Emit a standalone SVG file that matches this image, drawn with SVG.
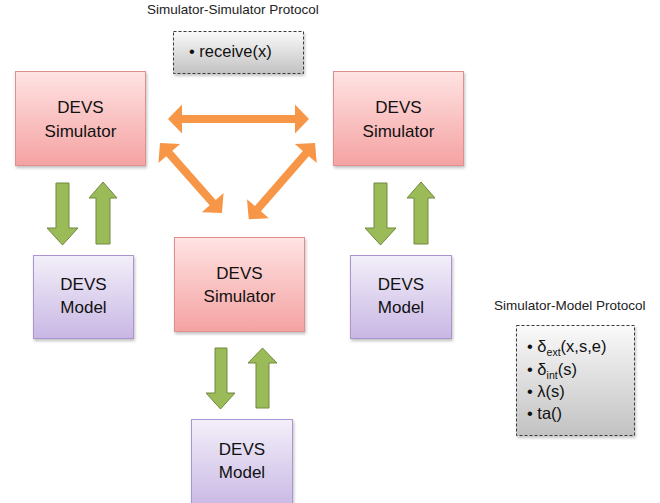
<svg xmlns="http://www.w3.org/2000/svg" width="660" height="503" viewBox="0 0 660 503">
  <defs>
    <linearGradient id="gSim" x1="0" y1="0" x2="0" y2="1">
      <stop offset="0" stop-color="#FFE3E3"/>
      <stop offset="1" stop-color="#F5A2A2"/>
    </linearGradient>
    <linearGradient id="gModel" x1="0" y1="0" x2="0" y2="1">
      <stop offset="0" stop-color="#F3EFF9"/>
      <stop offset="1" stop-color="#C8B7E4"/>
    </linearGradient>
    <linearGradient id="gProto" x1="0" y1="0" x2="0" y2="1">
      <stop offset="0" stop-color="#FAFAFA"/>
      <stop offset="1" stop-color="#C2C2C2"/>
    </linearGradient>
    <filter id="shadow" x="-10%" y="-10%" width="130%" height="130%">
      <feDropShadow dx="1" dy="2" stdDeviation="1.5" flood-color="#000" flood-opacity="0.25"/>
    </filter>
  </defs>
  <style>
    .sim { fill: url(#gSim); stroke: #DE8F8E; stroke-width: 1; filter: url(#shadow); }
    .model { fill: url(#gModel); stroke: #A996CF; stroke-width: 1; filter: url(#shadow); }
    .proto { fill: url(#gProto); stroke: #3A3A3A; stroke-width: 1; stroke-dasharray: 3 2; filter: url(#shadow); }
    .lbl { font-family: "Liberation Sans", Arial, sans-serif; font-size: 17px; fill: #111; text-anchor: middle; }
    .title { font-family: "Liberation Sans", Arial, sans-serif; font-size: 13.5px; fill: #222; }
    .item { font-family: "Liberation Sans", Arial, sans-serif; font-size: 16.5px; fill: #111; }
    .sub { font-size: 10.5px; }
    .orange { fill: #F79646; }
    .green { fill: #9BBB59; stroke: #71893F; stroke-width: 1; }
  </style>

  <!-- protocol titles and boxes -->
  <g id="simsim-protocol">
    <text class="title" x="147" y="14">Simulator-Simulator Protocol</text>
    <rect class="proto" x="173.5" y="31.5" width="130" height="42"/>
    <text class="item" x="189" y="57">• receive(x)</text>
  </g>

  <g id="simmodel-protocol">
    <text class="title" x="494" y="310">Simulator-Model Protocol</text>
    <rect class="proto" x="516.5" y="325.5" width="118" height="110"/>
    <text class="item" x="527" y="352">• δ<tspan class="sub" dy="4">ext</tspan><tspan dy="-4">(x,s,e)</tspan></text>
    <text class="item" x="527" y="375">• δ<tspan class="sub" dy="4">int</tspan><tspan dy="-4">(s)</tspan></text>
    <text class="item" x="527" y="397">• λ(s)</text>
    <text class="item" x="527" y="419">• ta()</text>
  </g>

  <!-- simulators -->
  <g id="sim-left">
    <rect class="sim" x="15.5" y="71.5" width="130" height="94"/>
    <text class="lbl" x="80.5" y="113">DEVS</text>
    <text class="lbl" x="80.5" y="137">Simulator</text>
  </g>
  <g id="sim-right">
    <rect class="sim" x="333.5" y="71.5" width="130" height="94"/>
    <text class="lbl" x="398.5" y="113">DEVS</text>
    <text class="lbl" x="398.5" y="137">Simulator</text>
  </g>
  <g id="sim-center">
    <rect class="sim" x="174.5" y="237.5" width="130" height="94"/>
    <text class="lbl" x="239.5" y="279">DEVS</text>
    <text class="lbl" x="239.5" y="302">Simulator</text>
  </g>

  <!-- models -->
  <g id="model-left">
    <rect class="model" x="33.5" y="255.5" width="100" height="83"/>
    <text class="lbl" x="83.5" y="290">DEVS</text>
    <text class="lbl" x="83.5" y="313">Model</text>
  </g>
  <g id="model-right">
    <rect class="model" x="350.5" y="255.5" width="101" height="83"/>
    <text class="lbl" x="401" y="290">DEVS</text>
    <text class="lbl" x="401" y="313">Model</text>
  </g>
  <g id="model-bottom">
    <rect class="model" x="191.5" y="419.5" width="101" height="90"/>
    <text class="lbl" x="242" y="455">DEVS</text>
    <text class="lbl" x="242" y="478">Model</text>
  </g>

  <!-- connectors -->
  <g id="connectors">
    <!-- simulator-to-simulator exchanges -->
    <path class="orange" transform="translate(168,119)" d="M0,0 L14,-14.5 L14,-4 L127,-4 L127,-14.5 L141,0 L127,14.5 L127,4 L14,4 L14,14.5 Z"/>
    <path class="orange" transform="translate(160,143) rotate(48.5)" d="M0,0 L14,-14.5 L14,-4 L79.5,-4 L79.5,-14.5 L93.5,0 L79.5,14.5 L79.5,4 L14,4 L14,14.5 Z"/>
    <path class="orange" transform="translate(315,143) rotate(131)" d="M0,0 L14,-14.5 L14,-4 L87,-4 L87,-14.5 L101,0 L87,14.5 L87,4 L14,4 L14,14.5 Z"/>

    <!-- simulator-to-model exchanges -->
    <polygon class="green" points="56,183 69,183 69,228 78,228 62.5,245 47,228 56,228"/>
    <polygon class="green" points="96,244 110,244 110,198 117,198 103,182 89,198 96,198"/>

    <polygon class="green" points="374,183 387,183 387,228 396,228 380.5,245 365,228 374,228"/>
    <polygon class="green" points="414,244 428,244 428,198 435,198 421,182 407,198 414,198"/>

    <polygon class="green" points="215,348 227,348 227,393 235,393 220.5,409 206,393 215,393"/>
    <polygon class="green" points="256,408 269,408 269,363 277,363 262.5,348 248,363 256,363"/>
  </g>
</svg>
